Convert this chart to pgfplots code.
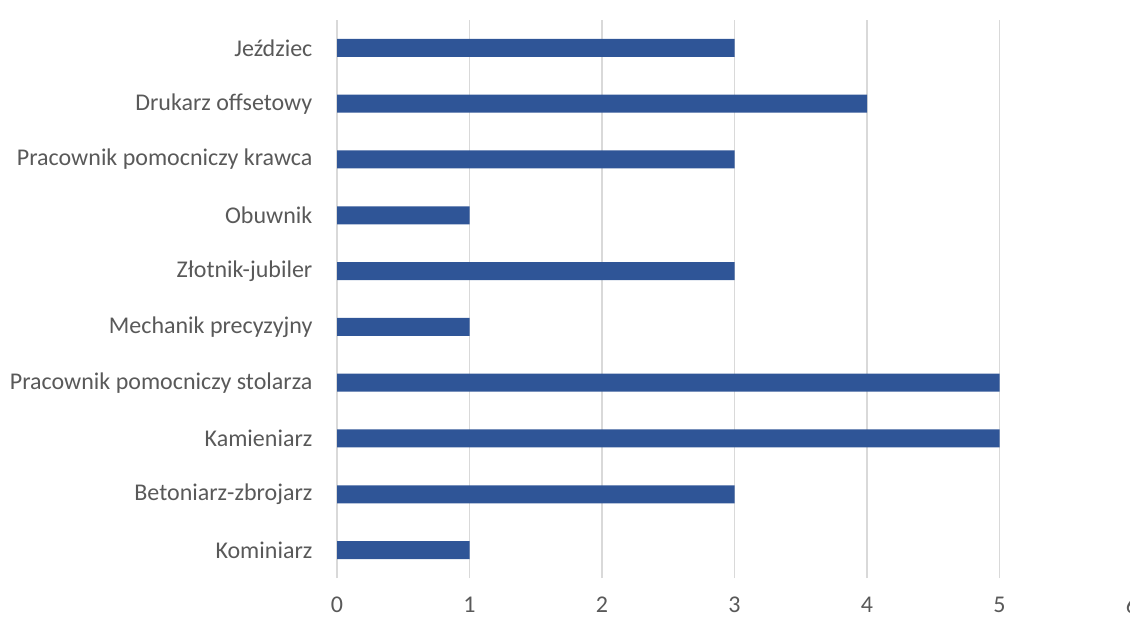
\documentclass[border=0pt]{standalone}
\usepackage{fontspec}
\setmainfont{Carlito}
\usepackage{pgfplots}
\pgfplotsset{compat=1.18}
\definecolor{barblue}{HTML}{2F5597}
\definecolor{txtgray}{HTML}{595959}
\definecolor{gridgray}{HTML}{D9D9D9}
\begin{document}
\begin{tikzpicture}
\useasboundingbox (0,0) rectangle (847.5pt,462.75pt);
\clip (0,0) rectangle (847.5pt,462.75pt);
\begin{axis}[
  at={(252.75pt,29.25pt)}, anchor=south west,
  scale only axis, width=596.25pt, height=418.5pt,
  xbar, bar width=13.5pt,
  xmin=0, xmax=6, ymin=-0.5, ymax=9.5,
  xtick={0,1,2,3,4,5,6},
  ytick={0,...,9},
  yticklabels={Kominiarz,Betoniarz-zbrojarz,Kamieniarz,Pracownik pomocniczy stolarza,Mechanik precyzyjny,Złotnik-jubiler,Obuwnik,Pracownik pomocniczy krawca,Drukarz offsetowy,Jeździec},
  axis line style={draw=none},
  tick style={draw=none},
  xmajorgrids, major grid style={draw=gridgray, line width=0.8pt},
  /pgf/number format/assume math mode=true,
  tick label style={font=\fontsize{18}{21}\selectfont, text=txtgray},
  xticklabel style={anchor=center, yshift=-20.25pt},
  yticklabel style={anchor=east, inner sep=0pt, xshift=-14pt},
]
\addplot[fill=barblue, draw=none] coordinates {
 (1,0) (3,1) (5,2) (5,3) (1,4) (3,5) (1,6) (3,7) (4,8) (3,9)
};
\end{axis}
\end{tikzpicture}
\end{document}
